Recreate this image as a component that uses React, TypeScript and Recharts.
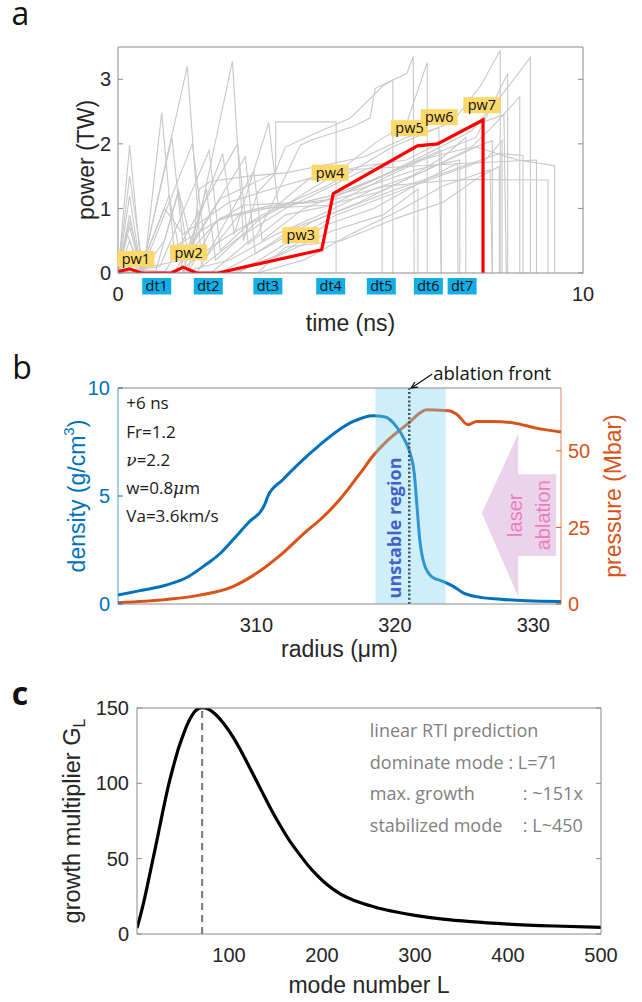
import React from 'react';
import { LineChart, Line, XAxis, YAxis, ReferenceDot, ReferenceArea, ReferenceLine, Label } from 'recharts';

const SANS = '"Liberation Sans", Arial, sans-serif';
const NOTE = '"Open Sans", "Noto Sans", sans-serif';
const AX = '#8a8a8a';
const TXT = '#262626';
const BLUE = '#0072BD';
const ORANGE = '#D95319';

// ---------- panel a data ----------
const timeTicks = [0, 10];
const powerTicks = [0, 1, 2, 3];
const redPulse: [number, number][] = [[0, 0.02], [0.25, 0.065], [0.5, 0], [1.15, 0], [1.4, 0.09], [1.69, 0], [2.15, 0], [4.38, 0.36], [4.63, 1.23], [6.44, 1.97], [6.87, 2.0], [7.85, 2.37], [7.85, 0]];
const g01: [number, number][] = [[0, 0], [0.25, 1.98], [0.5, 0.05], [1.3, 0], [2.4, 0.2], [3.4, 0.6], [4.5, 0.95], [5.5, 1.3], [6.5, 1.55], [7.5, 1.9], [8.05, 2.05], [8.05, 0]];
const g02: [number, number][] = [[0, 0], [0.25, 1.5], [0.55, 0], [0.94, 2.48], [1.2, 0.4], [1.9, 0.7], [2.7, 1.05], [4.0, 1.1], [5.2, 1.3], [6.4, 1.6], [7.35, 1.75], [7.35, 0]];
const g03: [number, number][] = [[0, 0], [0.25, 0.9], [0.5, 0], [1.16, 2.1], [1.45, 0.1], [2.1, 0.45], [3.1, 0.9], [4.5, 1.35], [5.9, 1.95], [7.2, 2.35], [7.8, 2.9], [8.22, 3.45], [8.22, 0]];
const g04: [number, number][] = [[0, 0], [0.25, 0.72], [0.5, 0], [1.49, 3.2], [1.8, 0.1], [2.6, 0.55], [3.6, 1.0], [4.6, 1.35], [5.3, 1.6], [5.68, 1.7], [5.68, 0]];
const g05: [number, number][] = [[0, 0], [0.2, 0.6], [0.5, 0], [1.6, 2.0], [1.9, 0.25], [2.6, 0.9], [3.5, 1.05], [4.7, 1.15], [5.8, 1.35], [6.9, 1.42], [7.6, 1.45], [9.25, 1.44], [9.25, 0]];
const g06: [number, number][] = [[0, 0], [0.9, 0.1], [1.96, 1.9], [2.2, 0.35], [2.8, 0.75], [3.6, 1.05], [4.6, 1.5], [5.6, 2.05], [6.2, 2.3], [6.65, 3.26], [6.65, 0]];
const g07: [number, number][] = [[0, 0], [1.3, 0], [2.25, 1.85], [2.5, 0.6], [3.24, 2.33], [3.45, 1.0], [4.6, 1.2], [5.5, 1.45], [6.5, 1.75], [7.6, 1.95], [8.1, 2.3], [8.64, 2.73], [8.64, 0]];
const g08: [number, number][] = [[0, 0], [1.5, 0], [2.46, 3.28], [2.7, 0.5], [3.0, 1.25], [3.39, 1.55], [3.39, 2.34], [4.69, 2.34], [4.69, 0]];
const g09: [number, number][] = [[0, 0], [1.0, 0], [2.57, 2.0], [2.8, 0.45], [3.6, 0.9], [4.6, 1.05], [5.8, 1.5], [7.0, 1.9], [7.7, 2.1], [8.38, 3.09], [8.38, 0]];
const g10: [number, number][] = [[0, 0], [1.2, 0], [2.74, 1.8], [2.95, 0.3], [3.8, 0.7], [4.9, 1.0], [6.0, 1.3], [7.2, 1.6], [8.2, 1.85], [8.71, 1.82], [8.71, 0]];
const g11: [number, number][] = [[0, 0], [1.7, 0], [2.92, 1.58], [3.1, 0.5], [4.0, 1.0], [4.9, 1.25], [5.8, 1.55], [6.8, 1.9], [7.6, 2.2], [8.3, 2.8], [8.87, 3.34], [8.87, 0]];
const g12: [number, number][] = [[0, 0], [0.8, 0], [1.3, 1.28], [1.6, 0.4], [1.75, 1.3], [2.0, 1.42], [2.8, 1.5], [3.6, 1.55], [4.3, 1.65], [5.3, 1.8], [6.2, 2.1], [6.9, 2.25], [6.95, 0]];
const g13: [number, number][] = [[0, 0], [1.5, 0], [2.1, 0.8], [3.0, 1.0], [4.5, 1.05], [5.6, 1.25], [6.8, 1.65], [7.7, 1.95], [8.6, 1.75], [9.39, 1.66], [9.39, 0]];
const g14: [number, number][] = [[0, 0], [2.0, 0], [3.0, 0.6], [3.92, 1.98], [4.16, 2.06], [5.06, 2.27], [5.42, 2.4], [5.53, 2.86], [6.21, 3.09], [6.35, 3.35], [6.37, 0]];
const g15: [number, number][] = [[0, 0], [2.2, 0], [3.2, 0.4], [4.2, 0.8], [5.2, 1.1], [6.2, 1.45], [7.0, 1.8], [7.48, 2.1], [7.48, 0]];
const g16: [number, number][] = [[0, 0], [2.5, 0], [3.5, 0.3], [4.5, 0.75], [5.5, 1.0], [6.5, 1.4], [7.3, 1.7], [7.31, 0]];
const g17: [number, number][] = [[0, 0], [2.6, 0], [3.7, 0.5], [4.7, 0.9], [5.8, 1.2], [6.9, 1.5], [7.9, 1.75], [8.26, 2.05], [8.26, 0]];
const g18: [number, number][] = [[0, 0], [3.0, 0], [4.0, 0.2], [5.0, 0.6], [6.0, 0.95], [7.0, 1.35], [8.0, 1.6], [8.05, 0]];
const g19: [number, number][] = [[0, 0], [0.25, 0.5], [0.5, 0], [1.0, 0.5], [1.3, 1.25], [1.5, 0.3], [2.2, 0.85], [3.3, 1.05], [4.4, 1.1], [5.4, 1.4], [6.3, 1.7], [6.95, 1.9], [6.95, 0]];
const g20: [number, number][] = [[0, 0], [0.25, 0.3], [0.45, 0], [1.1, 1.2], [1.4, 0], [1.9, 1.3], [2.1, 0.2], [3.0, 0.8], [4.1, 1.45], [5.2, 1.65], [6.2, 1.75], [7.7, 2.3], [8.3, 2.45], [8.35, 0]];
const g21: [number, number][] = [[0, 0], [0.25, 0.8], [0.5, 0.1], [1.0, 1.0], [1.4, 0.6], [2.4, 1.1], [3.3, 1.3], [4.3, 1.5], [5.0, 1.6], [6.2, 1.65], [7.5, 1.7], [9.0, 1.75], [9.0, 0]];
const g22: [number, number][] = [[0, 0], [3.0, 0], [3.6, 0.4], [4.8, 0.5], [6.0, 0.85], [7.0, 1.1], [7.8, 1.5], [8.2, 1.65], [8.2, 0]];
const g23: [number, number][] = [[0, 0], [1.4, 0.2], [2.2, 1.15], [3.37, 1.55], [3.6, 1.95], [4.2, 2.15], [5.0, 2.4], [5.7, 2.9], [5.91, 2.99], [5.91, 0]];
const g24: [number, number][] = [[0, 0], [0.25, 1.2], [0.5, 0], [2.2, 0], [3.4, 0.25], [4.6, 0.65], [5.7, 0.9], [6.45, 1.3], [6.45, 0]];
const grayRuns = [g01, g02, g03, g04, g05, g06, g07, g08, g09, g10, g11, g12, g13, g14, g15, g16, g17, g18, g19, g20, g21, g22, g23, g24];
const pwLabels = [
  { name: 'pw1', t: 0.385, p: 0.218 },
  { name: 'pw2', t: 1.52, p: 0.317 },
  { name: 'pw3', t: 3.93, p: 0.585 },
  { name: 'pw4', t: 4.56, p: 1.554 },
  { name: 'pw5', t: 6.27, p: 2.242 },
  { name: 'pw6', t: 6.91, p: 2.414 },
  { name: 'pw7', t: 7.825, p: 2.6 },
];
const dtLabels = [
  { name: 'dt1', t: 0.833 },
  { name: 'dt2', t: 1.942 },
  { name: 'dt3', t: 3.223 },
  { name: 'dt4', t: 4.574 },
  { name: 'dt5', t: 5.663 },
  { name: 'dt6', t: 6.675 },
  { name: 'dt7', t: 7.4 },
];
const dtLevel = -0.205;

// ---------- panel b data ----------
const radiusTicks = [310, 320, 330];
const densityTicks = [0, 5, 10];
const pressureTicks = [0, 25, 50];
const densityProfile: [number, number][] = [[300, 0.42], [301.6, 0.62], [303.5, 0.88], [305, 1.24], [306.4, 1.85], [307.4, 2.35], [308.3, 2.97], [309.5, 3.82], [310.45, 4.42], [310.64, 4.67], [310.83, 5.0], [311.9, 5.75], [313.1, 6.52], [314.6, 7.38], [315.8, 7.99], [317.0, 8.45], [318.4, 8.72], [319.3, 8.66], [320.1, 8.22], [320.7, 7.6], [321.1, 6.99], [321.4, 6.06], [321.6, 4.51], [321.8, 2.97], [322.1, 1.89], [322.65, 1.27], [323.5, 1.04], [324.2, 0.83], [324.9, 0.53], [325.9, 0.34], [327.6, 0.22], [329.5, 0.15], [332, 0.12]];
const pressureProfile: [number, number][] = [[300, 0.44], [303.5, 1.5], [305.9, 2.9], [308.3, 5.7], [310, 10], [311.9, 16.6], [313.6, 23.7], [314.6, 27.5], [316, 34], [317.5, 42.7], [318.4, 48.2], [319.4, 53.1], [320.4, 56.9], [321, 59.1], [321.8, 62.3], [322.3, 63.4], [323.3, 63.2], [323.9, 63.1], [324.5, 61.8], [325.3, 58.5], [325.9, 59.6], [327.1, 59.6], [328.6, 59.1], [330.2, 57.4], [332, 56.1]];
const unstableRegion = [318.6, 323.67];
const ablationFront = 321.04;
const laserArrow = { r1: 326.28, r2: 331.65, d1: 0.34, d2: 7.88 };
const simNotes = ['+6 ns', 'Fr=1.2', 'nu', 'w', 'Va=3.6km/s'];

// ---------- panel c data ----------
const modeTicks = [100, 200, 300, 400, 500];
const growthTicks = [0, 50, 100, 150];
const modeNumbers = [1, 5, 10, 15, 20, 25, 30, 35, 40, 45, 50, 55, 60, 65, 71, 77, 85, 95, 105, 115, 125, 135, 145, 155, 165, 175, 185, 195, 205, 220, 240, 260, 280, 300, 330, 360, 400, 450, 500];
const growthValues = [4, 13, 26, 40.5, 55, 70, 85, 99, 111, 122, 131, 139, 145, 148.8, 150.3, 149.5, 146, 139, 130, 119, 107, 95, 83, 72, 62, 53.5, 45.5, 38.8, 33, 26.5, 21, 17.3, 14.6, 12.4, 9.9, 8.2, 6.6, 5.3, 4.4];
const dominantMode = 71;
const maxGrowth = 150.3;
const rtiNotes = [
  ['linear RTI prediction', ''],
  ['dominate mode : L=71', ''],
  ['max. growth', ': ~151x'],
  ['stabilized mode', ': L~450'],
];

// ---------- helpers ----------
const toXY = (pts: [number, number][], xk: string, yk: string) => pts.map(([a, b]) => ({ [xk]: a, [yk]: b }));
const growthData = modeNumbers.map((L, i) => ({ L, G: growthValues[i] }));
const blank = () => '';

const xTitle = (node: React.ReactNode, off: number) => (p: any) => {
  const vb = p.viewBox || { x: 0, y: 0, width: 0, height: 0 };
  return (
    <text x={vb.x + vb.width / 2} y={vb.y + off} textAnchor="middle" fontFamily={SANS} fontSize={23} fill={TXT}>
      {node}
    </text>
  );
};
const yTitle = (node: React.ReactNode, off: number, color: string, size = 23) => (p: any) => {
  const vb = p.viewBox || { x: 0, y: 0, width: 0, height: 0 };
  const x = vb.x + off;
  const y = vb.y + vb.height / 2;
  return (
    <text x={x} y={y} transform={`rotate(-90 ${x} ${y})`} textAnchor="middle" dominantBaseline="central" fontFamily={SANS} fontSize={size} fill={color}>
      {node}
    </text>
  );
};

const tagShape = (text: string, fill: string, w: number, h: number) => (props: any) => {
  const { cx, cy } = props;
  if (cx == null || cy == null) return <g />;
  return (
    <g>
      <rect x={cx - w / 2} y={cy - h / 2} width={w} height={h} fill={fill} />
      <text x={cx} y={cy} dy="0.36em" textAnchor="middle" fontFamily={NOTE} fontSize={14.5} fill="#111">
        {text}
      </text>
    </g>
  );
};

function PanelA() {
  return (
    <LineChart width={642} height={340} margin={{ top: 47, right: 59, bottom: 0, left: 0 }}>
      <XAxis xAxisId="x" type="number" dataKey="t" domain={[0, 10]} ticks={timeTicks} allowDataOverflow height={67} tickSize={0} tickMargin={14} tickLine={false} axisLine={{ stroke: AX }} tick={{ fill: TXT, fontSize: 20, fontFamily: SANS }}>
        <Label content={xTitle('time (ns)', 58)} />
      </XAxis>
      <XAxis xAxisId="xt" orientation="top" mirror type="number" domain={[0, 10]} allowDataOverflow tick={false} tickLine={false} axisLine={{ stroke: AX }} />
      <YAxis yAxisId="y" type="number" domain={[0, 3.5]} ticks={powerTicks} allowDataOverflow width={118} tickSize={0} tickMargin={7} tickLine={false} axisLine={{ stroke: AX }} tick={{ fill: TXT, fontSize: 20, fontFamily: SANS }}>
        <Label content={yTitle('power (TW)', 86, TXT)} />
      </YAxis>
      <YAxis yAxisId="yin" mirror type="number" domain={[0, 3.5]} ticks={powerTicks} allowDataOverflow tickSize={5} tickFormatter={blank} axisLine={false} tickLine={{ stroke: AX }} />
      <YAxis yAxisId="yr" orientation="right" mirror type="number" domain={[0, 3.5]} ticks={powerTicks} allowDataOverflow tickSize={5} tickFormatter={blank} axisLine={{ stroke: AX }} tickLine={{ stroke: AX }} />
      {grayRuns.map((run, i) => (
        <Line key={`g${i}`} xAxisId="x" yAxisId="y" data={toXY(run, 't', 'p')} dataKey="p" type="linear" stroke="#c8c8c8" strokeWidth={1.1} dot={false} activeDot={false} isAnimationActive={false} />
      ))}
      <Line xAxisId="x" yAxisId="y" data={toXY(redPulse, 't', 'p')} dataKey="p" type="linear" stroke="#ff0000" strokeWidth={3.2} dot={false} activeDot={false} isAnimationActive={false} />
      {pwLabels.map((l) => (
        <ReferenceDot key={l.name} xAxisId="x" yAxisId="y" x={l.t} y={l.p} r={1} ifOverflow="visible" shape={tagShape(l.name, '#fdd86a', 37, 16)} />
      ))}
      {dtLabels.map((l) => (
        <ReferenceDot key={l.name} xAxisId="x" yAxisId="y" x={l.t} y={dtLevel} r={1} ifOverflow="visible" shape={tagShape(l.name, '#12aee8', 29, 16.5)} />
      ))}
    </LineChart>
  );
}

const arrowShape = (p: any) => {
  const { x, y, width: w, height: h } = p;
  if (x == null || w == null) return <g />;
  const hx = x + 0.49 * w;
  const pts = [[x, y + 0.487 * h], [hx, y], [hx, y + 0.248 * h], [x + w, y + 0.248 * h], [x + w, y + 0.75 * h], [hx, y + 0.75 * h], [hx, y + h]];
  const lx = x + 0.45 * w;
  const ax = x + 0.82 * w;
  const my = y + 0.5 * h;
  return (
    <g>
      <polygon points={pts.map((q) => q.join(',')).join(' ')} fill="#ead3eb" />
      <text x={lx} y={my} transform={`rotate(-90 ${lx} ${my})`} textAnchor="middle" dominantBaseline="central" fontFamily={SANS} fontSize={20} fill="#f07cc0">laser</text>
      <text x={ax} y={my} transform={`rotate(-90 ${ax} ${my})`} textAnchor="middle" dominantBaseline="central" fontFamily={SANS} fontSize={20} fill="#f07cc0">ablation</text>
    </g>
  );
};

const notesB = (props: any) => {
  const { cx, cy } = props;
  if (cx == null) return <g />;
  const lines: React.ReactNode[] = [
    simNotes[0],
    simNotes[1],
    <>
      <tspan fontStyle="italic" fontFamily='"DejaVu Serif", serif'>ν</tspan>=2.2
    </>,
    <>
      w=0.8<tspan fontStyle="italic" fontFamily='"DejaVu Serif", serif'>μ</tspan>m
    </>,
    simNotes[4],
  ];
  return (
    <g>
      {lines.map((ln, i) => (
        <text key={i} x={cx} y={cy + i * 28.3} dy="0.36em" fontFamily={NOTE} fontSize={17} fill="#1a1a1a">
          {ln}
        </text>
      ))}
    </g>
  );
};

const frontLabel = (props: any) => {
  const { cx, cy } = props;
  if (cx == null) return <g />;
  const tipX = cx + 2;
  const tipY = cy;
  const tailX = cx + 23;
  const tailY = cy - 14;
  const ang = Math.atan2(tailY - tipY, tailX - tipX);
  const L = 7;
  const a1 = ang + 0.45;
  const a2 = ang - 0.45;
  return (
    <g>
      <line x1={tailX} y1={tailY} x2={tipX} y2={tipY} stroke="#111" strokeWidth={1.3} />
      <polyline points={`${tipX + L * Math.cos(a1)},${tipY + L * Math.sin(a1)} ${tipX},${tipY} ${tipX + L * Math.cos(a2)},${tipY + L * Math.sin(a2)}`} fill="none" stroke="#111" strokeWidth={1.3} />
      <text x={cx + 24} y={cy - 15} dy="0.36em" fontFamily={NOTE} fontSize={18.5} fill="#111">ablation front</text>
    </g>
  );
};

const unstableLabel = (props: any) => {
  const { cx, cy } = props;
  if (cx == null) return <g />;
  return (
    <text x={cx} y={cy} transform={`rotate(-90 ${cx} ${cy})`} textAnchor="middle" dominantBaseline="central" fontFamily={NOTE} fontWeight="bold" fontSize={18} fill="#3f62c8">
      unstable region
    </text>
  );
};

function PanelB() {
  return (
    <LineChart width={642} height={330} margin={{ top: 48, right: 0, bottom: 0, left: 0 }}>
      <XAxis xAxisId="x" type="number" dataKey="r" domain={[300, 332]} ticks={radiusTicks} allowDataOverflow height={66} tickSize={0} tickMargin={14} tickLine={false} axisLine={{ stroke: AX }} tick={{ fill: TXT, fontSize: 20, fontFamily: SANS }}>
        <Label content={xTitle('radius (μm)', 53)} />
      </XAxis>
      <XAxis xAxisId="xin" mirror type="number" domain={[300, 332]} ticks={radiusTicks} allowDataOverflow tickSize={5} tickFormatter={blank} axisLine={false} tickLine={{ stroke: AX }} />
      <XAxis xAxisId="xt" orientation="top" mirror type="number" domain={[300, 332]} ticks={radiusTicks} allowDataOverflow tickSize={5} tickFormatter={blank} axisLine={{ stroke: AX }} tickLine={{ stroke: AX }} />
      <YAxis yAxisId="d" type="number" domain={[0, 10]} ticks={densityTicks} allowDataOverflow width={118} tickSize={0} tickMargin={8} tickLine={false} axisLine={{ stroke: BLUE, strokeOpacity: 0.7 }} tick={{ fill: BLUE, fontSize: 20, fontFamily: SANS }}>
        <Label
          content={yTitle(
            <>
              density (g/cm<tspan dy={-9} fontSize={15}>3</tspan>
              <tspan dy={9}>)</tspan>
            </>,
            77,
            BLUE,
          )}
        />
      </YAxis>
      <YAxis yAxisId="din" mirror type="number" domain={[0, 10]} ticks={densityTicks} allowDataOverflow tickSize={5} tickFormatter={blank} axisLine={false} tickLine={{ stroke: BLUE }} />
      <YAxis yAxisId="p" orientation="right" type="number" domain={[0, 70.5]} ticks={pressureTicks} allowDataOverflow width={81} tickSize={0} tickMargin={7} tickLine={false} axisLine={{ stroke: ORANGE, strokeOpacity: 0.7 }} tick={{ fill: ORANGE, fontSize: 20, fontFamily: SANS }}>
        <Label content={yTitle('pressure (Mbar)', 52, ORANGE)} />
      </YAxis>
      <YAxis yAxisId="pin" orientation="right" mirror type="number" domain={[0, 70.5]} ticks={pressureTicks} allowDataOverflow tickSize={5} tickFormatter={blank} axisLine={false} tickLine={{ stroke: ORANGE }} />
      <ReferenceArea xAxisId="x" yAxisId="d" x1={laserArrow.r1} x2={laserArrow.r2} y1={laserArrow.d1} y2={laserArrow.d2} shape={arrowShape} />
      <Line xAxisId="x" yAxisId="p" data={toXY(pressureProfile, 'r', 'v')} dataKey="v" type="monotone" stroke={ORANGE} strokeWidth={3} dot={false} activeDot={false} isAnimationActive={false} />
      <Line xAxisId="x" yAxisId="d" data={toXY(densityProfile, 'r', 'v')} dataKey="v" type="monotone" stroke={BLUE} strokeWidth={3} dot={false} activeDot={false} isAnimationActive={false} />
      <ReferenceArea xAxisId="x" yAxisId="d" x1={unstableRegion[0]} x2={unstableRegion[1]} y1={0} y2={10} fill="#7fd3ef" fillOpacity={0.38} stroke="none" {...({ zIndex: 450 } as any)} />
      <ReferenceLine xAxisId="x" yAxisId="d" x={ablationFront} stroke="#3d5560" strokeWidth={2.5} strokeDasharray="2 2.2" {...({ zIndex: 460 } as any)} />
      <ReferenceDot xAxisId="x" yAxisId="d" x={319.93} y={3.52} r={1} shape={unstableLabel} {...({ zIndex: 470 } as any)} />
      <ReferenceDot xAxisId="x" yAxisId="d" x={ablationFront} y={10} r={1} ifOverflow="visible" shape={frontLabel} />
      <ReferenceDot xAxisId="x" yAxisId="d" x={300.6} y={9.3} r={1} shape={notesB} />
    </LineChart>
  );
}

const notesC = (props: any) => {
  const { cx, cy } = props;
  if (cx == null) return <g />;
  return (
    <g>
      {rtiNotes.map(([a, b], i) => (
        <g key={i}>
          <text x={cx} y={cy + i * 31.5} dy="0.36em" fontFamily={NOTE} fontSize={18} fill="#808080">{a}</text>
          {b ? (
            <text x={cx + 153} y={cy + i * 31.5} dy="0.36em" fontFamily={NOTE} fontSize={18} fill="#808080">{b}</text>
          ) : null}
        </g>
      ))}
    </g>
  );
};

function PanelC() {
  return (
    <LineChart width={642} height={332} margin={{ top: 38, right: 41, bottom: 0, left: 0 }}>
      <XAxis xAxisId="x" type="number" dataKey="L" domain={[1, 500]} ticks={modeTicks} allowDataOverflow height={68} tickSize={0} tickMargin={14} tickLine={false} axisLine={{ stroke: AX }} tick={{ fill: TXT, fontSize: 20, fontFamily: SANS }}>
        <Label content={xTitle('mode number L', 58.5)} />
      </XAxis>
      <XAxis xAxisId="xin" mirror type="number" domain={[1, 500]} ticks={modeTicks} allowDataOverflow tickSize={5} tickFormatter={blank} axisLine={false} tickLine={{ stroke: AX }} />
      <XAxis xAxisId="xt" orientation="top" mirror type="number" domain={[1, 500]} ticks={modeTicks} allowDataOverflow tickSize={5} tickFormatter={blank} axisLine={{ stroke: AX }} tickLine={{ stroke: AX }} />
      <YAxis yAxisId="y" type="number" domain={[0, 150]} ticks={growthTicks} allowDataOverflow width={137} tickSize={0} tickMargin={8} tickLine={false} axisLine={{ stroke: AX }} tick={{ fill: TXT, fontSize: 20, fontFamily: SANS }}>
        <Label
          content={yTitle(
            <>
              growth multiplier G<tspan dy={7} fontSize={16}>L</tspan>
            </>,
            72,
            TXT,
            23.5,
          )}
        />
      </YAxis>
      <YAxis yAxisId="yin" mirror type="number" domain={[0, 150]} ticks={growthTicks} allowDataOverflow tickSize={5} tickFormatter={blank} axisLine={false} tickLine={{ stroke: AX }} />
      <YAxis yAxisId="yr" orientation="right" mirror type="number" domain={[0, 150]} ticks={growthTicks} allowDataOverflow tickSize={5} tickFormatter={blank} axisLine={{ stroke: AX }} tickLine={{ stroke: AX }} />
      <ReferenceLine xAxisId="x" yAxisId="y" segment={[{ x: dominantMode, y: 0 }, { x: dominantMode, y: maxGrowth }]} stroke="#808080" strokeWidth={2.2} strokeDasharray="7 5" ifOverflow="visible" />
      <Line xAxisId="x" yAxisId="y" data={growthData} dataKey="G" type="monotone" stroke="#000" strokeWidth={3.2} dot={false} activeDot={false} isAnimationActive={false} />
      <ReferenceDot xAxisId="x" yAxisId="y" x={251.4} y={134.9} r={1} shape={notesC} />
    </LineChart>
  );
}

export default function App() {
  return (
    <div style={{ position: 'absolute', left: 0, top: 0, width: 642, height: 1002, background: '#fff' }}>
      <div style={{ position: 'absolute', left: 0, top: 0 }}>
        <PanelA />
      </div>
      <div style={{ position: 'absolute', left: 0, top: 340 }}>
        <PanelB />
      </div>
      <div style={{ position: 'absolute', left: 0, top: 670 }}>
        <PanelC />
      </div>
      <svg width={642} height={1002} style={{ position: 'absolute', left: 0, top: 0, pointerEvents: 'none' }}>
        <text x={11.5} y={25} fontFamily={NOTE} fontSize={32} fill="#111">a</text>
        <text x={12.3} y={379} fontFamily={NOTE} fontSize={32} fill="#111">b</text>
        <text x={11.7} y={705} fontFamily={NOTE} fontWeight="bold" fontSize={32} fill="#111">c</text>
      </svg>
    </div>
  );
}
